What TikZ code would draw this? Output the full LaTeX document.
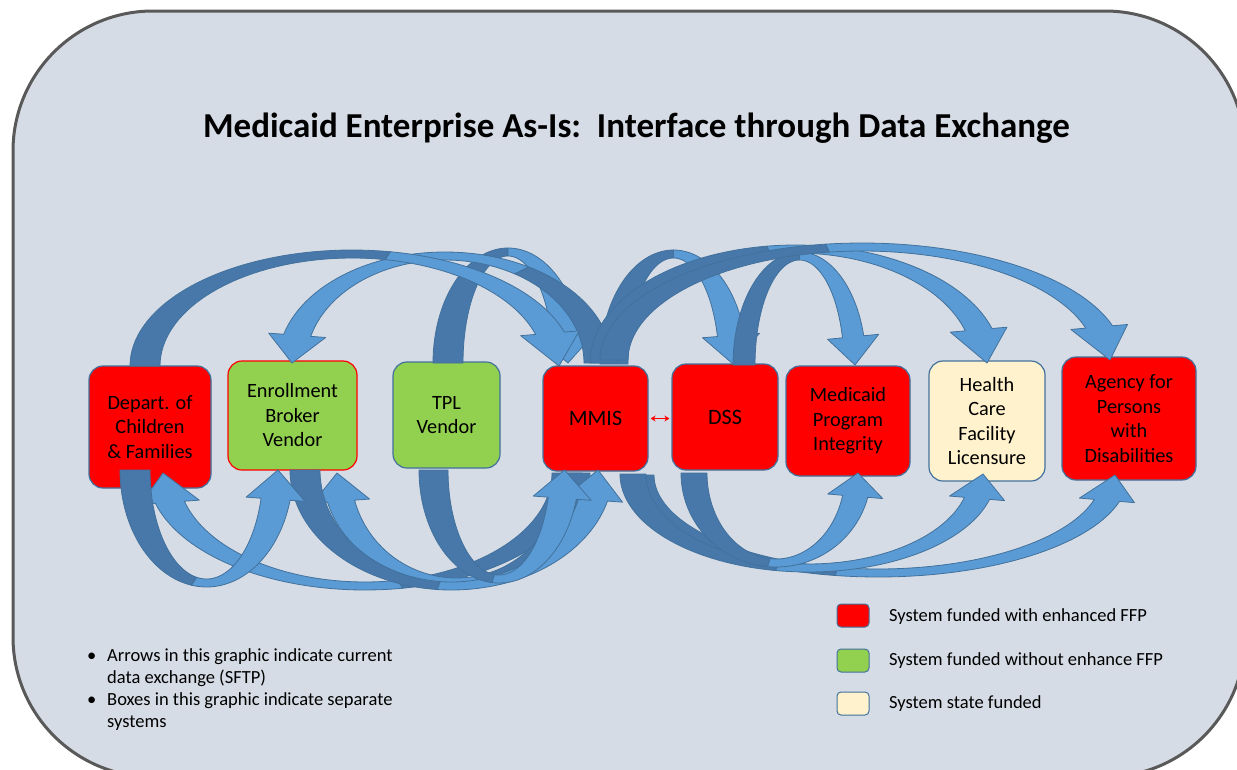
\documentclass[tikz,border=0pt]{standalone}
\usepackage{fontspec}
\setmainfont{Carlito}
\usetikzlibrary{calc,arrows.meta}
\definecolor{framefill}{HTML}{D6DCE5}
\definecolor{frameline}{HTML}{595959}
\definecolor{arrlight}{HTML}{5B9BD5}
\definecolor{arrdark}{HTML}{4878AA}
\definecolor{arrline}{HTML}{41719C}
\definecolor{boxred}{HTML}{FF0000}
\definecolor{boxgreen}{HTML}{92D050}
\definecolor{boxcream}{HTML}{FFF2CC}
\tikzset{
  darkband/.style={fill=arrdark, draw=arrline, line width=0.8pt, line join=round},
  lightband/.style={fill=arrlight, draw=arrline, line width=0.8pt, line join=round},
  sysbox/.style={draw=arrline, line width=1.2pt, rounded corners=14pt, align=center, inner sep=0pt, text=black, font=\fontsize{20.3}{24.5}\selectfont},
  legbox/.style={draw=arrline, line width=1pt, rounded corners=4pt, minimum width=32pt, minimum height=23pt, inner sep=0pt},
  legtext/.style={anchor=base west, inner sep=0pt, font=\fontsize{18.5}{22}\selectfont},
  bultext/.style={anchor=base west, inner sep=0pt, font=\fontsize{18.5}{22}\selectfont}
}
% curved band arrow: cx, cy, outer x-radius, outer y-radius, band width,
% tail angle, dark/light split angle, head base angle, tip angle
\newcommand{\carr}[9]{%
  \pgfmathsetmacro\cAi{#3-#5}%
  \pgfmathsetmacro\cBi{#4-8}%
  \pgfmathsetmacro\cAm{#3-#5/2}%
  \pgfmathsetmacro\cBm{#4-4}%
  \path ({#1+#3*cos(#8)},{#2+#4*sin(#8)}) coordinate (cO)
        ({#1+\cAi*cos(#8)},{#2+\cBi*sin(#8)}) coordinate (cI)
        ({#1+\cAm*cos(#9)},{#2+\cBm*sin(#9)}) coordinate (cT);
  \filldraw[darkband] plot[domain=#6:#7,samples=40] ({#1+#3*cos(\x)},{#2+#4*sin(\x)})
     -- plot[domain=#7:#6,samples=40] ({#1+\cAi*cos(\x)},{#2+\cBi*sin(\x)}) -- cycle;
  \filldraw[lightband] plot[domain=#7:#8,samples=40] ({#1+#3*cos(\x)},{#2+#4*sin(\x)})
     -- ($(cO)!-15pt!(cI)$) -- (cT) -- ($(cI)!-15pt!(cO)$)
     -- plot[domain=#8:#7,samples=40] ({#1+\cAi*cos(\x)},{#2+\cBi*sin(\x)}) -- cycle;
}
\begin{document}
\begin{tikzpicture}[x=1pt,y=-1pt]
\useasboundingbox (0,0) rectangle (1237,769);
\fill[white] (0,0) rectangle (1237,769);
\begin{scope}
\clip (0,0) rectangle (1237,769);
\draw[fill=framefill, draw=frameline, line width=3pt, rounded corners=140pt] (13,11) rectangle (1245,777);

% title
\node[anchor=base, inner sep=0pt, font=\bfseries\fontsize{35}{40}\selectfont] (title) at (636.5,137) {Medicaid Enterprise As-Is:\ \ Interface through Data Exchange};

% boxes
\node[sysbox, fill=boxred, minimum width=122pt, minimum height=122pt] (dcf) at (150,427) {Depart. of\\Children\\\& Families};
\node[sysbox, fill=boxgreen, draw=boxred, minimum width=129pt, minimum height=109pt] (eb) at (292.5,415.5) {Enrollment\\Broker\\Vendor};
\node[sysbox, fill=boxgreen, minimum width=107pt, minimum height=106pt] (tpl) at (446.5,415) {TPL\\Vendor};
\node[sysbox, fill=boxred, minimum width=105pt, minimum height=105pt, font=\fontsize{22}{26}\selectfont] (mmis) at (595.5,418.5) {MMIS};
\node[sysbox, fill=boxred, minimum width=106pt, minimum height=106pt, font=\fontsize{22}{26}\selectfont] (dss) at (725,417) {DSS};
\node[sysbox, fill=boxred, minimum width=124pt, minimum height=110pt] (mpi) at (848,421) {Medicaid\\Program\\Integrity};
\node[sysbox, fill=boxcream, minimum width=116pt, minimum height=120pt] (hcfl) at (987,421) {Health\\Care\\Facility\\Licensure};
\node[sysbox, fill=boxred, minimum width=134pt, minimum height=123pt] (apd) at (1129,418.5) {Agency for\\Persons\\with\\Disabilities};

% top arrows
\carr{508}{363}{75}{115}{30}{180}{270}{345}{360}
\carr{445}{363}{167}{111}{28}{360}{300}{195}{180}
\carr{352}{366}{222}{116}{30}{180}{280}{343}{360}
\carr{673.5}{364}{73.5}{114}{28}{180}{270}{345}{360}
\carr{799.5}{365}{66.5}{113}{22}{180}{270}{345}{360}
\carr{795.5}{363}{205.5}{118}{28}{180}{262}{343}{360}
\carr{862}{360}{262}{117}{28}{180}{262}{343}{360}

% bottom arrows
\carr{365}{473}{217}{117}{30}{0}{80}{165}{180}
\carr{456.5}{473}{133.5}{113}{28}{0}{80}{165}{180}
\carr{878}{475}{250}{102}{26}{180}{100}{15}{0}
\carr{808}{474}{188}{98}{26}{180}{100}{15}{0}
\carr{776}{473}{95}{94}{26}{180}{95}{15}{0}
\carr{451.5}{470}{161.5}{120}{30}{180}{95}{15}{0}
\carr{499}{470}{80}{113}{29}{180}{95}{15}{0}
\carr{206.5}{470}{86.5}{117}{30}{180}{100}{15}{0}

% MMIS <-> DSS
\draw[red, line width=1.2pt, {Stealth[length=5pt,width=6pt]}-{Stealth[length=5pt,width=6pt]}] ([xshift=2pt]mmis.east) -- ([xshift=-2pt]mmis.east -| dss.west);

% legend
\node[legbox, fill=boxred] (l1) at (853,615.5) {};
\node[legbox, fill=boxgreen] (l2) at (853,660.5) {};
\node[legbox, fill=boxcream] (l3) at (853,703.5) {};
\node[legtext] (l1t) at (889,621) {System funded with enhanced FFP};
\node[legtext] (l2t) at (889,665) {System funded without enhance FFP};
\node[legtext] (l3t) at (889,708) {System state funded};

% notes
\node[bultext] (b1) at (87,661) {\textbullet};
\node[bultext] (n1) at (107,661) {Arrows in this graphic indicate current};
\node[bultext] (n2) at (107,683) {data exchange (SFTP)};
\node[bultext] (b2) at (87,705) {\textbullet};
\node[bultext] (n3) at (107,705) {Boxes in this graphic indicate separate};
\node[bultext] (n4) at (107,727) {systems};
\end{scope}
\end{tikzpicture}
\end{document}
